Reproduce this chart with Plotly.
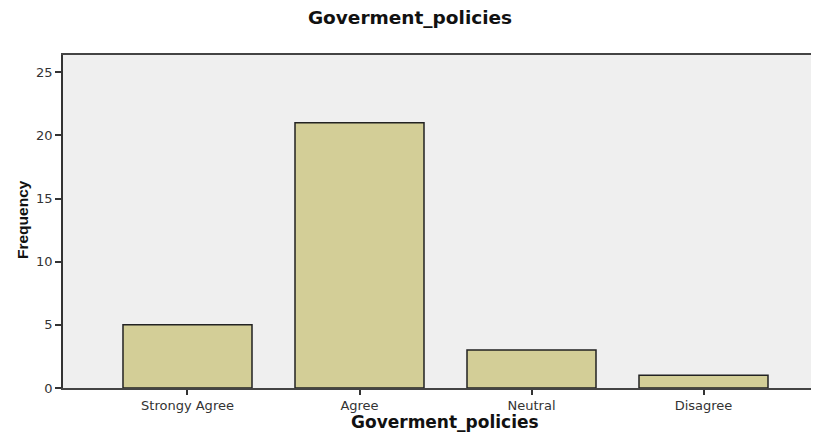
import plotly.graph_objects as go

categories = ["Strongy Agree", "Agree", "Neutral", "Disagree"]
frequencies = [5, 21, 3, 1]
y_ticks = [0, 5, 10, 15, 20, 25]
title_text = "Goverment_policies"
x_title = "Goverment_policies"
y_title = "Frequency"

# page is rendered with an 8px body margin; work in page pixels and shift
OFF = 8
W, H = 819 - OFF, 434 - OFF
L, R, T = 63 - OFF, 0, 55 - OFF
PLOT_BOTTOM = 388 - OFF
B = H - PLOT_BOTTOM
pw = W - L - R
ph = H - T - B

fig = go.Figure(
    go.Bar(
        x=list(range(len(categories))),
        y=frequencies,
        width=0.75,
        marker=dict(color="#D3CE97", line=dict(color="#222222", width=1.5)),
        hoverinfo="x+y",
    )
)

fig.update_layout(
    width=W,
    height=H,
    margin=dict(l=L, r=R, t=T, b=B),
    paper_bgcolor="white",
    plot_bgcolor="#EFEFEF",
    showlegend=False,
    title=dict(
        text=title_text,
        x=(410 - OFF) / W,
        xref="container",
        xanchor="center",
        y=1 - (18 - OFF) / H,
        yref="container",
        yanchor="middle",
        font=dict(family="DejaVu Sans", size=18.5, color="#111111", weight="bold"),
    ),
    xaxis=dict(
        range=[-0.7238, 3.6715],
        tickmode="array",
        tickvals=list(range(len(categories))),
        ticktext=categories,
        ticks="outside",
        ticklen=5,
        tickwidth=1.5,
        tickcolor="#333333",
        showline=True,
        linecolor="#444444",
        linewidth=1.5,
        mirror=True,
        showgrid=False,
        zeroline=False,
        tickfont=dict(family="DejaVu Sans", size=13, color="#333333"),
        fixedrange=True,
    ),
    yaxis=dict(
        range=[0, 26.37],
        tickmode="array",
        tickvals=y_ticks,
        ticktext=[str(v) for v in y_ticks],
        ticks="outside",
        ticklen=6,
        tickwidth=1.5,
        tickcolor="#333333",
        showline=True,
        linecolor="#333333",
        linewidth=1.5,
        mirror=False,
        showgrid=False,
        zeroline=False,
        tickfont=dict(family="DejaVu Sans", size=13, color="#333333"),
        fixedrange=True,
    ),
    annotations=[
        dict(
            text=x_title,
            xref="paper",
            yref="paper",
            x=(445 - 63) / pw,
            y=-(422 - 388) / ph,
            xanchor="center",
            yanchor="middle",
            showarrow=False,
            font=dict(family="DejaVu Sans", size=17, color="#111111", weight="bold"),
        ),
        dict(
            text=y_title,
            xref="paper",
            yref="paper",
            x=(22 - 63) / pw,
            y=(388 - 220) / ph,
            xanchor="center",
            yanchor="middle",
            textangle=-90,
            showarrow=False,
            font=dict(family="Liberation Sans", size=15.5, color="#111111", weight="bold"),
        ),
    ],
)

fig.write_html("out.html")
